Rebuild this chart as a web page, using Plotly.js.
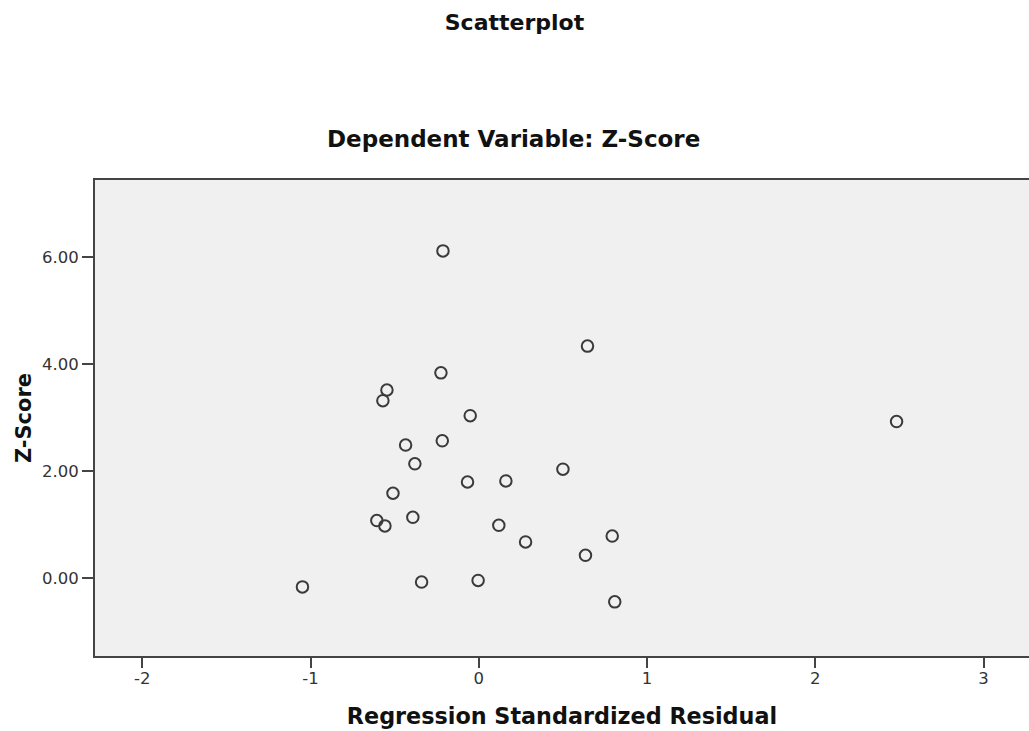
<!DOCTYPE html>
<html><head><meta charset="utf-8">
<script src="https://cdn.plot.ly/plotly-3.0.1.min.js"></script>
<style>html,body{margin:0;padding:0;background:#fff}</style>
</head><body>
<div id="chart" style="width:1029px;height:731px"></div>
<script>
const residual = [-0.213, 0.646, 2.483, -0.225, -0.546, -0.570, -0.051, -0.435, -0.217, -0.380,
  -0.067, 0.161, 0.500, -0.510, -0.606, -0.558, -0.392, 0.119, 0.278, 0.793,
  0.634, 0.808, -1.048, -0.340, -0.004];
const zscore = [6.12, 4.34, 2.93, 3.84, 3.52, 3.32, 3.04, 2.49, 2.57, 2.14,
  1.80, 1.82, 2.04, 1.59, 1.08, 0.98, 1.14, 0.99, 0.68, 0.79,
  0.43, -0.44, -0.16, -0.07, -0.04];
const xTicks = [-2, -1, 0, 1, 2, 3];
const yTicks = [0, 2, 4, 6];

const font = "'DejaVu Sans', 'Liberation Sans', Arial, sans-serif";
const data = [{
  type: 'scatter', mode: 'markers', x: residual, y: zscore,
  marker: {symbol: 'circle-open', size: 11.5, color: '#3a3a3a', line: {width: 2, color: '#3a3a3a'}},
  hoverinfo: 'x+y'
}];
const layout = {
  width: 1029, height: 731,
  margin: {l: 95, r: 0, t: 180, b: 75},
  paper_bgcolor: '#ffffff', plot_bgcolor: '#f0f0f0',
  font: {family: font, color: '#333'},
  showlegend: false,
  title: {text: '<b>Scatterplot</b>', x: 0.5, xref: 'container', y: 1 - 22/731, yref: 'container', yanchor: 'middle',
    font: {family: font, size: 22, color: '#111'}},
  annotations: [{text: '<b>Dependent Variable: Z-Score</b>', xref: 'paper', yref: 'paper',
    x: (513 - 95) / 934, y: (656 - 139) / 476, xanchor: 'center', yanchor: 'middle', showarrow: false,
    font: {family: font, size: 23, color: '#111'}}],
  xaxis: {
    range: [-2.281, 3.27], tickvals: xTicks, ticktext: xTicks.map(String),
    showgrid: false, zeroline: false, showline: true, linecolor: '#444', linewidth: 2, mirror: true,
    ticks: 'outside', ticklen: 10, tickwidth: 2, tickcolor: '#444', ticklabelstandoff: -4,
    tickfont: {family: font, size: 16.5, color: '#333'},
    title: {text: '<b>Regression Standardized Residual</b>', standoff: 22, font: {family: font, size: 22.3, color: '#111'}}
  },
  yaxis: {
    range: [-1.452, 7.445], tickvals: yTicks, ticktext: yTicks.map(v => v.toFixed(2)),
    showgrid: false, zeroline: false, showline: true, linecolor: '#444', linewidth: 2, mirror: false,
    ticks: 'outside', ticklen: 11, tickwidth: 2, tickcolor: '#444',
    tickfont: {family: font, size: 16.5, color: '#333'},
    title: {text: '<b>Z-Score</b>', standoff: 5, font: {family: font, size: 21, color: '#111'}}
  }
};
Plotly.newPlot('chart', data, layout, {displayModeBar: false, staticPlot: true});
</script>
</body></html>
